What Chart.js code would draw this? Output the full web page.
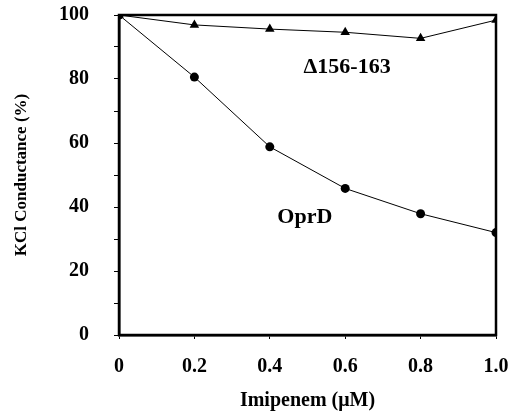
<!DOCTYPE html>
<html>
<head>
<meta charset="utf-8">
<script src="https://cdn.jsdelivr.net/npm/chart.js"></script>
<style>
  html, body { margin: 0; padding: 0; background: #fff; }
  #wrap { width: 510px; height: 414px; }
</style>
</head>
<body>
<div id="wrap"><canvas id="c" width="510" height="414"></canvas></div>
<script>
// imipenem concentration (uM)
const conc = [0, 0.2, 0.4, 0.6, 0.8, 1.0];
const oprD = [100, 80.6, 58.8, 45.8, 37.9, 32];
const del156 = [100, 96.9, 95.6, 94.6, 92.7, 98.4];

// in-plot text labels: [text, x value, y value]
const curveLabels = [
    ["\u0394156-163", 0.605, 83.8],
    ["OprD", 0.493, 36.9]
];

const serif = "'Liberation Serif', 'DejaVu Serif', serif";

// drop the label overflow padding chart.js adds, so layout.padding decides the plot box
function noScalePadding(s) {
    s.paddingTop = 0;
    s.paddingBottom = 0;
    s.paddingLeft = 0;
    s.paddingRight = 0;
}

const frameAndLabels = {
    id: "frameAndLabels",
    afterDatasetsDraw(chart) {
        const ctx = chart.ctx;
        const a = chart.chartArea;
        const xs = chart.scales.x, ys = chart.scales.y;
        ctx.save();
        ctx.strokeStyle = "#000";
        ctx.lineWidth = 2.5;
        ctx.strokeRect(a.left, a.top, a.right - a.left, a.bottom - a.top);
        ctx.fillStyle = "#000";
        ctx.font = "bold 22px " + serif;
        ctx.textAlign = "center";
        ctx.textBaseline = "middle";
        curveLabels.forEach(([t, x, y]) => {
            ctx.fillText(t, xs.getPixelForValue(x), ys.getPixelForValue(y));
        });
        ctx.restore();
    }
};

new Chart(document.getElementById("c"), {
    type: "line",
    data: {
        datasets: [
            {
                label: "\u0394156-163",
                data: conc.map((x, i) => ({ x, y: del156[i] })),
                borderColor: "#000",
                backgroundColor: "#000",
                borderWidth: 1,
                pointStyle: "triangle",
                pointRadius: 5.5,
                pointBorderWidth: 0,
                tension: 0
            },
            {
                label: "OprD",
                data: conc.map((x, i) => ({ x, y: oprD[i] })),
                borderColor: "#000",
                backgroundColor: "#000",
                borderWidth: 1,
                pointStyle: "circle",
                pointRadius: 4.5,
                pointBorderWidth: 0,
                tension: 0
            }
        ]
    },
    options: {
        responsive: false,
        animation: false,
        events: [],
        layout: { padding: { left: 0, right: 14, top: 15, bottom: 0 } },
        plugins: { legend: { display: false }, tooltip: { enabled: false } },
        scales: {
            x: {
                type: "linear",
                min: 0,
                max: 1,
                afterFit(s) { s.height = 79; noScalePadding(s); },
                grid: { drawOnChartArea: false, tickLength: 4, color: "#000" },
                border: { display: true, color: "#000", width: 2.5 },
                ticks: {
                    stepSize: 0.2,
                    maxRotation: 0,
                    color: "#000",
                    padding: 16,
                    font: { family: serif, size: 20, weight: "bold" },
                    callback: v => (v === 0 ? "0" : v.toFixed(1))
                },
                title: {
                    display: true,
                    text: "Imipenem (\u03bcM)",
                    color: "#000",
                    font: { family: serif, size: 20, weight: "bold" },
                    padding: { top: 10, bottom: 1 }
                }
            },
            y: {
                min: 0,
                max: 100,
                afterFit(s) { s.width = 119; noScalePadding(s); },
                grid: { drawOnChartArea: false, tickLength: 5, color: "#000" },
                border: { display: true, color: "#000", width: 2.5 },
                ticks: {
                    stepSize: 10,
                    color: "#000",
                    padding: 25,
                    font: { family: serif, size: 20, weight: "bold" },
                    callback: v => (v % 20 === 0 ? String(v) : "")
                },
                title: {
                    display: true,
                    text: "KCl Conductance (%)",
                    color: "#000",
                    font: { family: serif, size: 17, weight: "bold" },
                    padding: { top: 11, bottom: 0 }
                }
            }
        }
    },
    plugins: [frameAndLabels]
});
</script>
</body>
</html>
